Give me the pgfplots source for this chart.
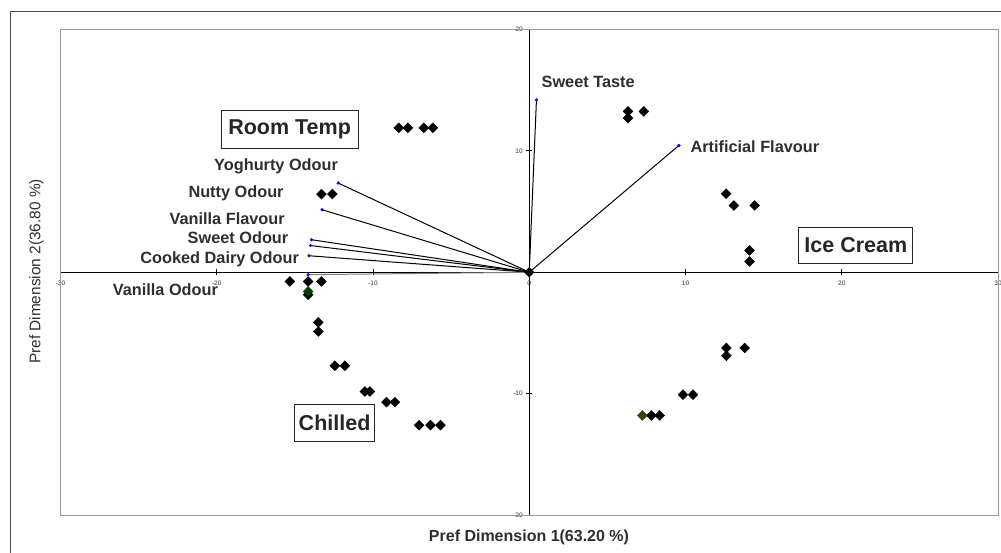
\documentclass[border=0pt]{standalone}
\usepackage{fontspec}
\setmainfont{Liberation Sans}
\usepackage{pgfplots}
\pgfplotsset{compat=1.18}
\definecolor{framegray}{gray}{0.6}
\definecolor{txtgray}{gray}{0.18}
\definecolor{dkgreen}{rgb}{0,0.25,0}
\definecolor{dkolive}{rgb}{0.25,0.25,0}
\begin{document}
\begin{tikzpicture}[x=1pt,y=1pt]
\useasboundingbox (0,0) rectangle (1001,552);
\draw[gray!60!black, line width=1pt] (10,-10) -- (10,540) -- (1011,540);
\begin{axis}[
  at={(60.5pt,37pt)}, anchor=south west,
  scale only axis, width=937.5pt, height=485.5pt,
  xmin=-30, xmax=30, ymin=-20, ymax=20,
  axis lines=middle,
  axis line style={black, line width=1.3pt, -},
  hide obscured x ticks=false, hide obscured y ticks=false,
  xtick={-30,-20,-10,0,10,20,30},
  ytick={-20,-10,10,20},
  tick align=center, major tick length=6pt,
  tick style={black, line width=0.8pt},
  /pgf/number format/assume math mode=true,
  tick label style={font=\fontsize{6.5}{7}\selectfont, text=txtgray},
  xticklabel style={yshift=-2pt},
  clip=false,
]
\draw[framegray, line width=0.9pt] (rel axis cs:0,0) rectangle (rel axis cs:1,1);
% vectors
\addplot[black, line width=1pt] coordinates {(0,0) (0.46,14.2)};
\addplot[black, line width=1pt] coordinates {(0,0) (9.58,10.45)};
\addplot[black, line width=1pt] coordinates {(0,0) (-12.23,7.35)};
\addplot[black, line width=1pt] coordinates {(0,0) (-13.26,5.15)};
\addplot[black, line width=1pt] coordinates {(0,0) (-13.94,2.68)};
\addplot[black, line width=1pt] coordinates {(0,0) (-14.0,2.2)};
\addplot[black, line width=1pt] coordinates {(0,0) (-14.1,1.36)};
\addplot[gray, line width=1pt] coordinates {(0,0) (-14.15,-0.2)};
\addplot[only marks, mark=*, mark size=1.4pt, blue] coordinates {
(0.46,14.2) (9.58,10.45) (-12.23,7.35) (-13.26,5.15) (-13.94,2.68) (-14.0,2.2) (-14.1,1.36) (-14.15,-0.2)};
% points
\addplot[only marks, mark=square*, mark size=3.5pt, mark options={rotate=45}, black] coordinates {
(-8.35,11.9) (-7.77,11.9) (-6.75,11.9) (-6.17,11.9)
(-13.3,6.44) (-12.6,6.44)
(6.32,13.25) (6.32,12.7) (7.33,13.25)
(12.6,6.47) (13.1,5.5) (14.43,5.5)
(14.1,1.8) (14.1,0.89)
(-15.32,-0.76) (-14.15,-0.76) (-13.3,-0.76) (-14.15,-1.85)
(-13.5,-4.13) (-13.5,-4.88)
(-12.44,-7.7) (-11.8,-7.7)
(-10.52,-9.82) (-10.2,-9.82)
(-9.14,-10.7) (-8.6,-10.7)
(-7.05,-12.6) (-6.32,-12.6) (-5.68,-12.6)
(12.62,-6.24) (12.62,-6.88) (13.79,-6.24)
(9.84,-10.09) (10.48,-10.09)
(7.82,-11.8) (8.35,-11.8)
(0,0)};
\addplot[only marks, mark=square*, mark size=3.5pt, mark options={rotate=45}, dkgreen] coordinates {(-14.15,-1.58)};
\addplot[only marks, mark=square*, mark size=3.5pt, mark options={rotate=45}, dkolive] coordinates {(7.24,-11.8)};
% vector labels
\begin{scope}[every node/.style={inner sep=0pt, text=txtgray, font=\fontsize{16.3}{18}\selectfont\bfseries}]
\node[anchor=east] at (axis cs:-12.23,8.71) {Yoghurty Odour};
\node[anchor=east] at (axis cs:-15.71,6.52) {Nutty Odour};
\node[anchor=east] at (axis cs:-15.64,4.41) {Vanilla Flavour};
\node[anchor=east] at (axis cs:-15.41,2.87) {Sweet Odour};
\node[anchor=east] at (axis cs:-14.73,1.03) {Cooked Dairy Odour};
\node[anchor=east] at (axis cs:-19.91,-1.44) {Vanilla Odour};
\node[anchor=west] at (axis cs:0.78,15.67) {Sweet Taste};
\node[anchor=west] at (axis cs:10.31,10.36) {Artificial Flavour};
\end{scope}
% group boxes
\begin{scope}[every node/.style={draw=black!85, line width=1pt, fill=white, inner sep=0pt, font=\fontsize{21.5}{24}\selectfont\bfseries, text=black!85}]
\node[minimum width=137pt, minimum height=37.5pt] at (axis cs:-15.34,11.78) {Room Temp};
\node[minimum width=114.3pt, minimum height=35.6pt] at (axis cs:20.9,2.22) {Ice Cream};
\node[minimum width=80pt, minimum height=36.7pt] at (axis cs:-12.46,-12.42) {Chilled};
\end{scope}
\end{axis}
\node[text=txtgray, font=\fontsize{16}{18}\selectfont\bfseries] at (529,15) {Pref Dimension 1(63.20 \%)};
\node[rotate=90, text=txtgray, font=\fontsize{15.4}{17}\selectfont] at (36.5,280.5) {Pref Dimension 2(36.80 \%)};
\end{tikzpicture}
\end{document}
